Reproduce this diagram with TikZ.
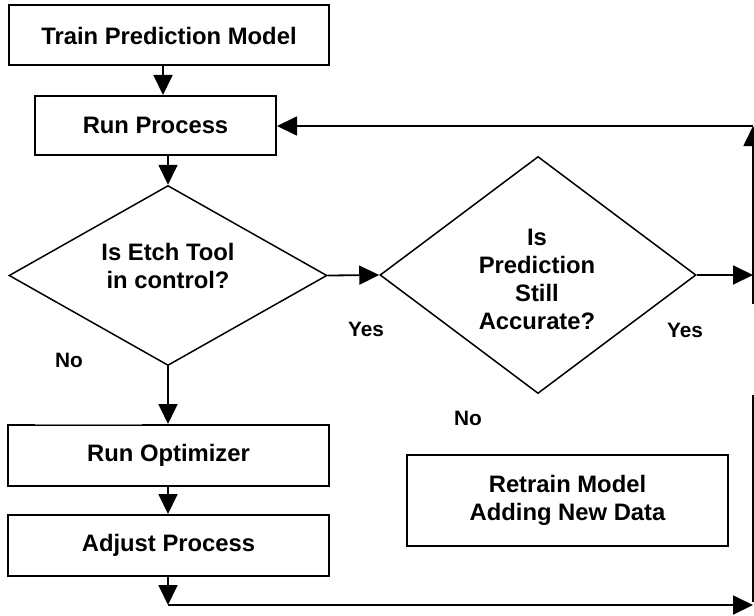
\documentclass[tikz,border=0pt]{standalone}
\usepackage{fontspec}
\setmainfont{Liberation Sans}
\usetikzlibrary{shapes.geometric,arrows.meta}

\begin{document}
\begin{tikzpicture}[x=0.5pt,y=-0.5pt,
  box/.style={draw, line width=1pt, rectangle, inner sep=0pt, align=center,
    font=\fontsize{11.9}{14}\selectfont\bfseries},
  dia/.style={draw, line width=0.75pt, diamond, inner sep=0pt},
  txt/.style={inner sep=0pt, align=center, font=\fontsize{11.9}{14}\selectfont\bfseries},
  lbl/.style={inner sep=0pt, font=\fontsize{10.4}{12}\selectfont\bfseries},
  arr/.style={line width=0.9pt, -{Triangle[length=10pt,width=9.5pt]}},
  wire/.style={line width=0.9pt}
]
\fill[white] (0,0) rectangle (754,615);
\clip (0,0) rectangle (754,615);

% process boxes
\node[box, minimum width=160pt, minimum height=30pt] (train) at (169,35.5) {Train Prediction Model};
\node[box, minimum width=120.5pt, minimum height=29.5pt] (run) at (155.5,125.5) {Run Process};
\node[box, minimum width=160.5pt, minimum height=30.5pt] (opt) at (168.5,455.5) {Run Optimizer};
\node[box, minimum width=160.5pt, minimum height=30.5pt] (adj) at (168.5,545.5) {Adjust Process};
\node[box, minimum width=160.5pt, minimum height=45.5pt] (retrain) at (567.5,500.5) {Retrain Model\\Adding New Data};

% decisions
\node[dia, minimum width=159pt, minimum height=90pt] (d1) at (168,275.5) {};
\node[txt] (d1t) at (168,266) {Is Etch Tool\\in control?};
\node[dia, minimum width=158pt, minimum height=118.5pt] (d2) at (538,275) {};
\node[txt] (d2t) at (537,279) {Is\\Prediction\\Still\\Accurate?};

% branch labels
\node[lbl] (yes1) at (366,329) {Yes};
\node[lbl] (yes2) at (685,330) {Yes};
\node[lbl] (no1) at (69,360) {No};
\node[lbl] (no2) at (468,418) {No};

% faint stretch along the top edge of the optimizer box
\draw[white, line width=1.4pt] ([xshift=14pt]opt.north west) -- ([xshift=67.5pt]opt.north west);
\draw[gray, line width=0.4pt] ([xshift=14pt]opt.north west) -- ([xshift=67.5pt]opt.north west);

% return path along the right edge
\coordinate (r0) at (753,126);
\coordinate (r1) at (753,275);
\coordinate (r2) at (753,304);
\coordinate (r3) at (753,395);
\coordinate (r4) at (753,602);
\coordinate (b0) at (168,605);
\coordinate (b1) at (753,605);

% connectors
\draw[arr] (train.south -| 163,0) -- (run.north -| 163,0);
\draw[arr] (run.south -| d1.north) -- (d1.north);
\draw[arr] (d1.east) -- (d2.west);
\draw[arr] (d2.east) -- (r1);
\draw[arr] (r2) -- (r0);
\draw[arr] (r0) -- (r0 -| run.east);
\draw[arr] (d1.south) -- (opt.north -| d1.south);
\draw[arr] (opt.south -| d1.south) -- (adj.north -| d1.south);
\draw[arr] (adj.south -| b0) -- (b0);
\draw[arr] (b0) -- (b1);
\draw[wire] (r3) -- (r4);
\end{tikzpicture}
\end{document}
